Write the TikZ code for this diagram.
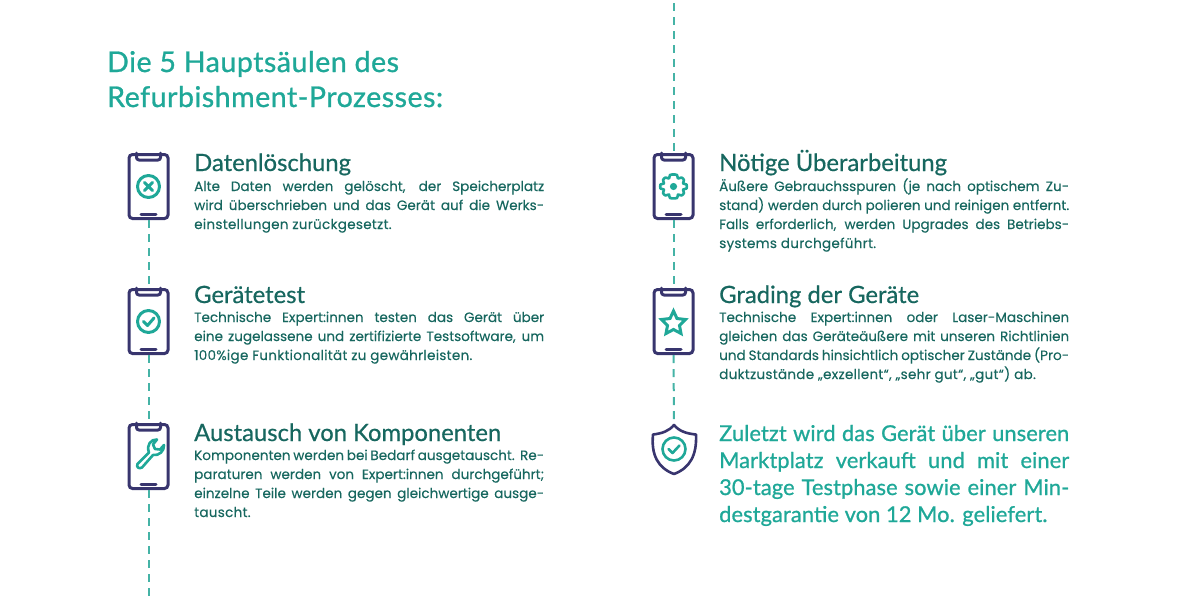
\documentclass[tikz,border=0pt]{standalone}
\usepackage{fontspec}
\setmainfont{Lato}
\newfontfamily\headf[RawFeature={embolden=0.6}]{Lato}
\newfontfamily\titlef[RawFeature={embolden=0.9},LetterSpace=1.7]{Lato}
\newfontfamily\finalf[RawFeature={embolden=0.9},LetterSpace=0.5]{Lato}
\newfontfamily\bodyf[RawFeature={embolden=0.25}]{Poppins}
\newfontfamily\bodylast[RawFeature={embolden=0.25},LetterSpace=2]{Poppins}
\usetikzlibrary{shapes.geometric}
\definecolor{teal1}{HTML}{1FA898}
\definecolor{navy1}{HTML}{38356E}
\definecolor{deep1}{HTML}{17675F}
\definecolor{dash1}{HTML}{45B3A6}
\newcommand{\jl}[1]{\hbox to 350pt{\spaceskip=0.15em plus 1fil\relax #1}}
\tikzset{
 x=1pt,y=-1pt,
 phone/.style={draw=navy1,line width=3pt,rounded corners=3.5pt,minimum width=39pt,minimum height=64pt,inner sep=0pt,fill=none},
 navyline/.style={draw=navy1,line width=3pt,line cap=round,line join=round},
 iconline/.style={draw=teal1,line width=3pt,line cap=round,line join=round},
 conn/.style={draw=dash1,line width=2pt,dash pattern=on 8pt off 6pt},
 maintitle/.style={anchor=base west,inner sep=0pt,text=teal1,font=\titlef\fontsize{28.6}{30}\selectfont},
 headtext/.style={anchor=base west,inner sep=0pt,text=deep1,font=\headf\fontsize{23.8}{26}\selectfont},
 bodytext/.style={anchor=base west,inner sep=0pt,text=deep1,font=\bodyf\fontsize{13.55}{19}\selectfont},
 lasttext/.style={anchor=base west,inner sep=0pt,text=deep1,font=\bodylast\fontsize{13.55}{19}\selectfont},
 finaltext/.style={anchor=base west,inner sep=0pt,text=teal1,font=\finalf\fontsize{21.8}{27}\selectfont},
}
\newcommand{\phonedeco}[1]{%
 \draw[navyline,rounded corners=2.5pt] ([xshift=-12pt]#1.north) -- ++(0,7) -- ++(24,0) -- ([xshift=12pt]#1.north);
 \draw[navyline] ([xshift=-7.5pt,yshift=6pt]#1.south) -- ([xshift=7.5pt,yshift=6pt]#1.south);
}
\begin{document}
\begin{tikzpicture}
\useasboundingbox (0,0) rectangle (1200,598);
% phones
\node[phone] (p1) at (148.5,186.5) {};
\node[phone] (p2) at (148.5,321.5) {};
\node[phone] (p3) at (148.5,456.5) {};
\node[phone] (p4) at (673.5,186.5) {};
\node[phone] (p5) at (673.5,321.5) {};
\coordinate (s1) at (674,425);
\coordinate (top) at (673.5,3);
\coordinate (bot) at (148.5,598);
% connectors
\draw[conn] (p1.south) -- (p2.north);
\draw[conn] (p2.south) -- (p3.north);
\draw[conn] (p3.south) -- (bot);
\draw[conn] (top) -- (p4.north);
\draw[conn] (p4.south) -- (p5.north);
\draw[conn] (p5.south) -- (s1);
\phonedeco{p1}\phonedeco{p2}\phonedeco{p3}\phonedeco{p4}\phonedeco{p5}
% x icon
\draw[iconline] (148.5,186.5) circle (11);
\draw[iconline] (144.5,182.5) -- (152.5,190.5) (152.5,182.5) -- (144.5,190.5);
% check icon
\draw[iconline] (148.5,321.5) circle (11);
\draw[iconline] (143.5,321.5) -- (147.5,325.5) -- (154,318);
% wrench
\draw[iconline,line width=2.6pt] (137.5,464) -- (149,452.5) .. controls (146,445) and (151,439) .. (157,439.5) -- (153,444.5) -- (155,449) -- (160,449.5) -- (164,445) .. controls (164.5,451) and (159,456) .. (153,455) -- (142,467.5) .. controls (139,469.5) and (136,467) .. (137.5,464) -- cycle;
% gear
\draw[iconline,line width=2.6pt] plot[smooth cycle,tension=0.5] coordinates {
 (673.5,174.5) (677,175) (678,178.5) (681.5,177.5) (684,180) (683,183.5) (686.5,184.5) (686.5,188.5) (683,189.5) (684,193) (681.5,195.5) (678,194.5) (677,198) (670,198) (669,194.5) (665.5,195.5) (663,193) (664,189.5) (660.5,188.5) (660.5,184.5) (664,183.5) (663,180) (665.5,177.5) (669,178.5) (670,175)};
\fill[teal1] (673.5,186.5) circle (3.6);
% star
\draw[iconline,line join=miter] (673.5,311) -- (677,318.5) -- (685.5,319.5) -- (679.5,325.5) -- (681,333.5) -- (673.5,329.5) -- (666,333.5) -- (667.5,325.5) -- (661.5,319.5) -- (670,318.5) -- cycle;
% shield
\draw[navyline,line width=2.6pt] (s1) .. controls (679,431) and (686,433.5) .. (696,434.5) .. controls (697,455) and (690,468) .. (674,474) .. controls (658,468) and (651,455) .. (653,434.5) .. controls (662,433.5) and (669,431) .. (s1) -- cycle;
\draw[iconline,line width=2.6pt] (674,449) circle (11.5);
\draw[iconline,line width=2.6pt] (668.5,449) -- (672.5,453) -- (679.5,445.5);
% titles
\node[maintitle] (t1) at (107,72) {Die 5 Hauptsäulen des};
\node[maintitle] (t2) at (107,107) {Refurbishment-Prozesses:};
% block 1
\node[headtext] (h1) at (194,171) {Datenlöschung};
\node[bodytext] (b11) at (194,191) {\jl{Alte Daten werden gelöscht, der Speicherplatz}};
\node[bodytext] (b12) at (194,210) {\jl{wird überschrieben und das Gerät auf die Werks-}};
\node[lasttext] (b13) at (194,229) {einstellungen zurückgesetzt.};
% block 2
\node[headtext] (h2) at (194,303) {Gerätetest};
\node[bodytext] (b21) at (194,322) {\jl{Technische Expert:innen testen das Gerät über}};
\node[bodytext] (b22) at (194,341) {\jl{eine zugelassene und zertifizierte Testsoftware, um}};
\node[lasttext] (b23) at (194,360) {100\%ige Funktionalität zu gewährleisten.};
% block 3
\node[headtext] (h3) at (194,441) {Austausch von Komponenten};
\node[bodytext] (b31) at (194,460) {\jl{Komponenten werden bei Bedarf ausgetauscht. Re-}};
\node[bodytext] (b32) at (194,479) {\jl{paraturen werden von Expert:innen durchgeführt;}};
\node[bodytext] (b33) at (194,498) {\jl{einzelne Teile werden gegen gleichwertige ausge-}};
\node[lasttext] (b34) at (194,517) {tauscht.};
% block 4
\node[headtext] (h4) at (719,171) {Nötige Überarbeitung};
\node[bodytext] (b41) at (719,191) {\jl{Äußere Gebrauchsspuren (je nach optischem Zu-}};
\node[bodytext] (b42) at (719,210) {\jl{stand) werden durch polieren und reinigen entfernt.}};
\node[bodytext] (b43) at (719,229) {\jl{Falls erforderlich, werden Upgrades des Betriebs-}};
\node[lasttext] (b44) at (719,248) {systems durchgeführt.};
% block 5
\node[headtext] (h5) at (719,303) {Grading der Geräte};
\node[bodytext] (b51) at (719,322) {\jl{Technische Expert:innen oder Laser-Maschinen}};
\node[bodytext] (b52) at (719,341) {\jl{gleichen das Geräteäußere mit unseren Richtlinien}};
\node[bodytext] (b53) at (719,360) {\jl{und Standards hinsichtlich optischer Zustände (Pro-}};
\node[lasttext] (b54) at (719,379) {duktzustände „exzellent“, „sehr gut“, „gut“) ab.};
% final
\node[finaltext] (f1) at (719,441) {\jl{Zuletzt wird das Gerät über unseren}};
\node[finaltext] (f2) at (719,468) {\jl{Marktplatz verkauft und mit einer}};
\node[finaltext] (f3) at (719,495) {\jl{30-tage Testphase sowie einer Min-}};
\node[finaltext] (f4) at (719,522) {destgarantie von 12 Mo. geliefert.};
\end{tikzpicture}
\end{document}
